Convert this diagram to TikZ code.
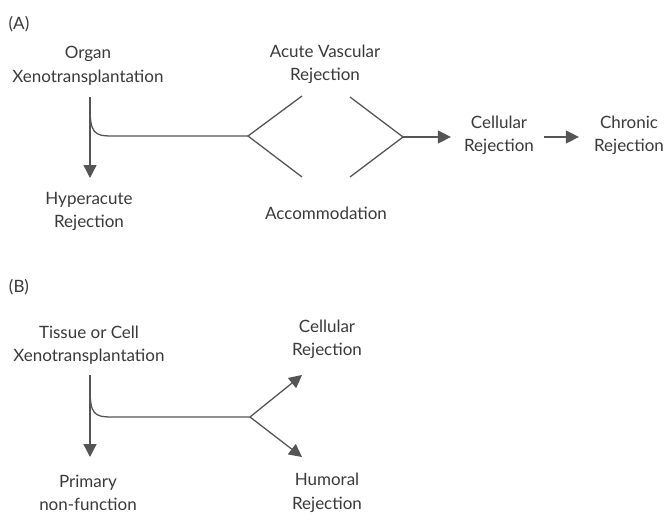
\documentclass[tikz,border=0pt]{standalone}
\usepackage{fontspec}
\setmainfont{Lato}
\usepackage{tikz}
\usetikzlibrary{arrows.meta}
\definecolor{ink}{HTML}{3A3A3A}
\definecolor{wire}{HTML}{555555}
\tikzset{
lbl/.style={align=center,inner sep=0pt,text=ink,font=\fontsize{14.5}{20}\selectfont},
tag/.style={inner sep=0pt,text=ink,font=\fontsize{14.5}{20}\selectfont},
wireline/.style={draw=wire,line width=1.1pt},
arr/.style={wireline,-{Triangle[width=11pt,length=11pt]}}
}
\begin{document}
\begin{tikzpicture}[x=0.03cm,y=-0.03cm]
\useasboundingbox[fill=white](0,0) rectangle (667,515);
% (A) organ
\node[tag] (tagA) at (19,24) {(A)};
\node[lbl] (org) at (88,66) {Organ\\Xenotransplantation};
\node[lbl] (hyper) at (89,211.5) {Hyperacute\\Rejection};
\node[lbl] (avr) at (325,64.5) {Acute Vascular\\Rejection};
\node[lbl] (acc) at (326,213) {Accommodation};
\node[lbl] (cellA) at (499,135.5) {Cellular\\Rejection};
\node[lbl] (chron) at (629,135.5) {Chronic\\Rejection};
\coordinate (orgS) at (90,97);
\coordinate (hyperN) at (90,178);
\coordinate (jA) at (248,136);
\coordinate (avrL) at (302,96);
\coordinate (accL) at (302,177);
\coordinate (avrR) at (350,97);
\coordinate (accR) at (350,177);
\coordinate (kA) at (403,137);
\draw[arr] (orgS) -- (hyperN);
\draw[wireline] (90,106) .. controls (90,133) and (94,136) .. (112,136) -- (jA);
\draw[wireline] (avrL) -- (jA) -- (accL);
\draw[wireline] (avrR) -- (kA) -- (accR);
\draw[arr,shorten >=0.39cm] (kA) -- (cellA.west|-kA);
\draw[arr,shorten <=0.3cm,shorten >=0.45cm] (cellA.east|-kA) -- (chron.west|-kA);
% (B) tissue or cell
\node[tag] (tagB) at (19,287) {(B)};
\node[lbl] (tis) at (89,345) {Tissue or Cell\\Xenotransplantation};
\node[lbl] (prim) at (88,493) {Primary\\non-function};
\node[lbl] (cellB) at (327,339.5) {Cellular\\Rejection};
\node[lbl] (hum) at (327,493) {Humoral\\Rejection};
\coordinate (tisS) at (90,375);
\coordinate (primN) at (90,457);
\coordinate (jB) at (250,417);
\coordinate (cellBW) at (302,375);
\coordinate (humW) at (302,457);
\draw[arr] (tisS) -- (primN);
\draw[wireline] (90,388) .. controls (90,414) and (94,417) .. (112,417) -- (jB);
\draw[arr] (jB) -- (cellBW);
\draw[arr] (jB) -- (humW);
\end{tikzpicture}
\end{document}
